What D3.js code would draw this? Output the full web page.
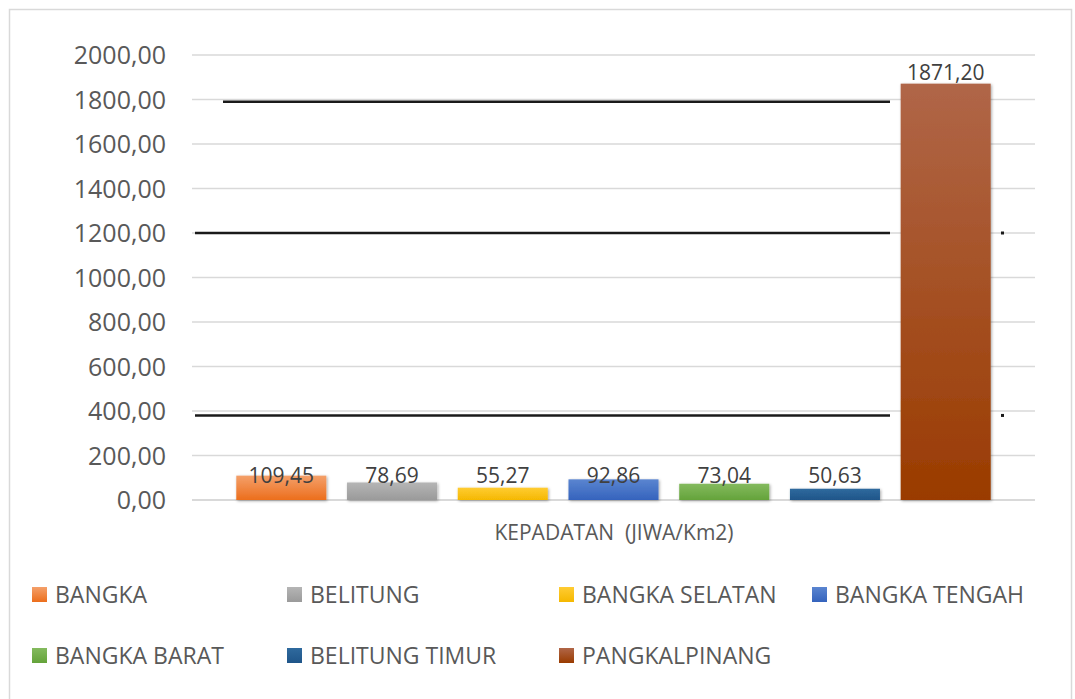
<!DOCTYPE html>
<html><head><meta charset="utf-8">
<script src="https://cdn.jsdelivr.net/npm/d3@7"></script>
<style>body{margin:0;background:#fff}svg{display:block;font-family:"Open Sans",sans-serif}</style>
</head><body><svg id="c" width="1075" height="699"></svg>
<script>
const categories = ["BANGKA","BELITUNG","BANGKA SELATAN","BANGKA TENGAH","BANGKA BARAT","BELITUNG TIMUR","PANGKALPINANG"];
const values = [109.45, 78.69, 55.27, 92.86, 73.04, 50.63, 1871.20];
const valueLabels = ["109,45","78,69","55,27","92,86","73,04","50,63","1871,20"];
const yTicks = [0,200,400,600,800,1000,1200,1400,1600,1800,2000];
const yTickLabels = ["0,00","200,00","400,00","600,00","800,00","1000,00","1200,00","1400,00","1600,00","1800,00","2000,00"];
const axisTitle = "KEPADATAN  (JIWA/Km2)";
// stray dark rule lines visible over the plot in the source image (value level)
const strayLines = [1790, 1200, 380];

const colorsTop = ["#F4A06A","#B5B5B5","#FFCC33","#5A85D0","#84BA5E","#2F6A9E","#B06648"];
const colorsBot = ["#EC6E1C","#9A9A9A","#F5B800","#3563BD","#64A33A","#1F5589","#9A3B00"];

const svg = d3.select("#c");
const L = 192, R = 1035, T = 55, B = 500;
const y = d3.scaleLinear().domain([0,2000]).range([B,T]);
const x = d3.scaleBand().domain(categories).range([L,R]).paddingInner(0.187).paddingOuter(0.4);

const defs = svg.append("defs");
categories.forEach((c,i)=>{
  const g = defs.append("linearGradient").attr("id","g"+i).attr("x1",0).attr("y1",0).attr("x2",0).attr("y2",1);
  g.append("stop").attr("offset","0%").attr("stop-color",colorsTop[i]);
  g.append("stop").attr("offset","100%").attr("stop-color",colorsBot[i]);
});
const f = defs.append("filter").attr("id","sh").attr("x","-20%").attr("y","-20%").attr("width","140%").attr("height","140%");
f.append("feDropShadow").attr("dx",1).attr("dy",1).attr("stdDeviation",1.5).attr("flood-color","#000").attr("flood-opacity",0.35);

// border
svg.append("rect").attr("x",9.5).attr("y",9.5).attr("width",1062).attr("height",720)
  .attr("fill","none").attr("stroke","#D9D9D9").attr("stroke-width",1.5);

// gridlines
svg.append("g").selectAll("line").data(yTicks).join("line")
  .attr("x1",L).attr("x2",R).attr("y1",d=>y(d)).attr("y2",d=>y(d))
  .attr("stroke","#D9D9D9").attr("stroke-width",d=>d===0?2:1.5);

// y labels
svg.append("g").selectAll("text").data(yTicks).join("text")
  .attr("x",166).attr("y",d=>y(d)).attr("dy","0.36em").attr("text-anchor","end")
  .attr("font-size",25).attr("fill","#595959").text((d,i)=>yTickLabels[i]);

// stray dark lines
svg.append("g").selectAll("line").data(strayLines).join("line")
  .attr("x1",(d,i)=>i===0?223:195).attr("x2",890).attr("y1",d=>y(d)).attr("y2",d=>y(d))
  .attr("stroke","#1a1a1a").attr("stroke-width",2.5);
svg.append("g").selectAll("rect").data(strayLines.slice(1)).join("rect")
  .attr("x",1001).attr("y",d=>y(d)-1.5).attr("width",3).attr("height",3).attr("fill","#1a1a1a");

// bars
svg.append("g").selectAll("rect").data(values).join("rect")
  .attr("x",(d,i)=>x(categories[i])).attr("width",x.bandwidth())
  .attr("y",d=>y(d)).attr("height",d=>B-y(d))
  .attr("fill",(d,i)=>`url(#g${i})`).attr("filter","url(#sh)");

// value labels
svg.append("g").selectAll("text").data(values).join("text")
  .attr("x",(d,i)=>x(categories[i])+x.bandwidth()/2)
  .attr("y",d=>d > 200 ? y(d)-4 : y(0)-17)
  .attr("text-anchor","middle").attr("font-size",21).attr("fill","#404040")
  .text((d,i)=>valueLabels[i]);

// axis title
svg.append("text").attr("x",614).attr("y",540).attr("text-anchor","middle")
  .attr("font-size",21).attr("fill","#595959").style("white-space","pre").text(axisTitle);

// legend
const colX = [32,287,559,812];
const leg = svg.append("g").selectAll("g").data(categories).join("g")
  .attr("transform",(d,i)=>`translate(${colX[i%4]},${i<4?587:648})`);
leg.append("rect").attr("width",15).attr("height",15).attr("fill",(d,i)=>`url(#g${i})`);
leg.append("text").attr("x",23).attr("y",8).attr("dy","0.36em").attr("font-size",23)
  .attr("fill","#595959").text(d=>d);
</script></body></html>
